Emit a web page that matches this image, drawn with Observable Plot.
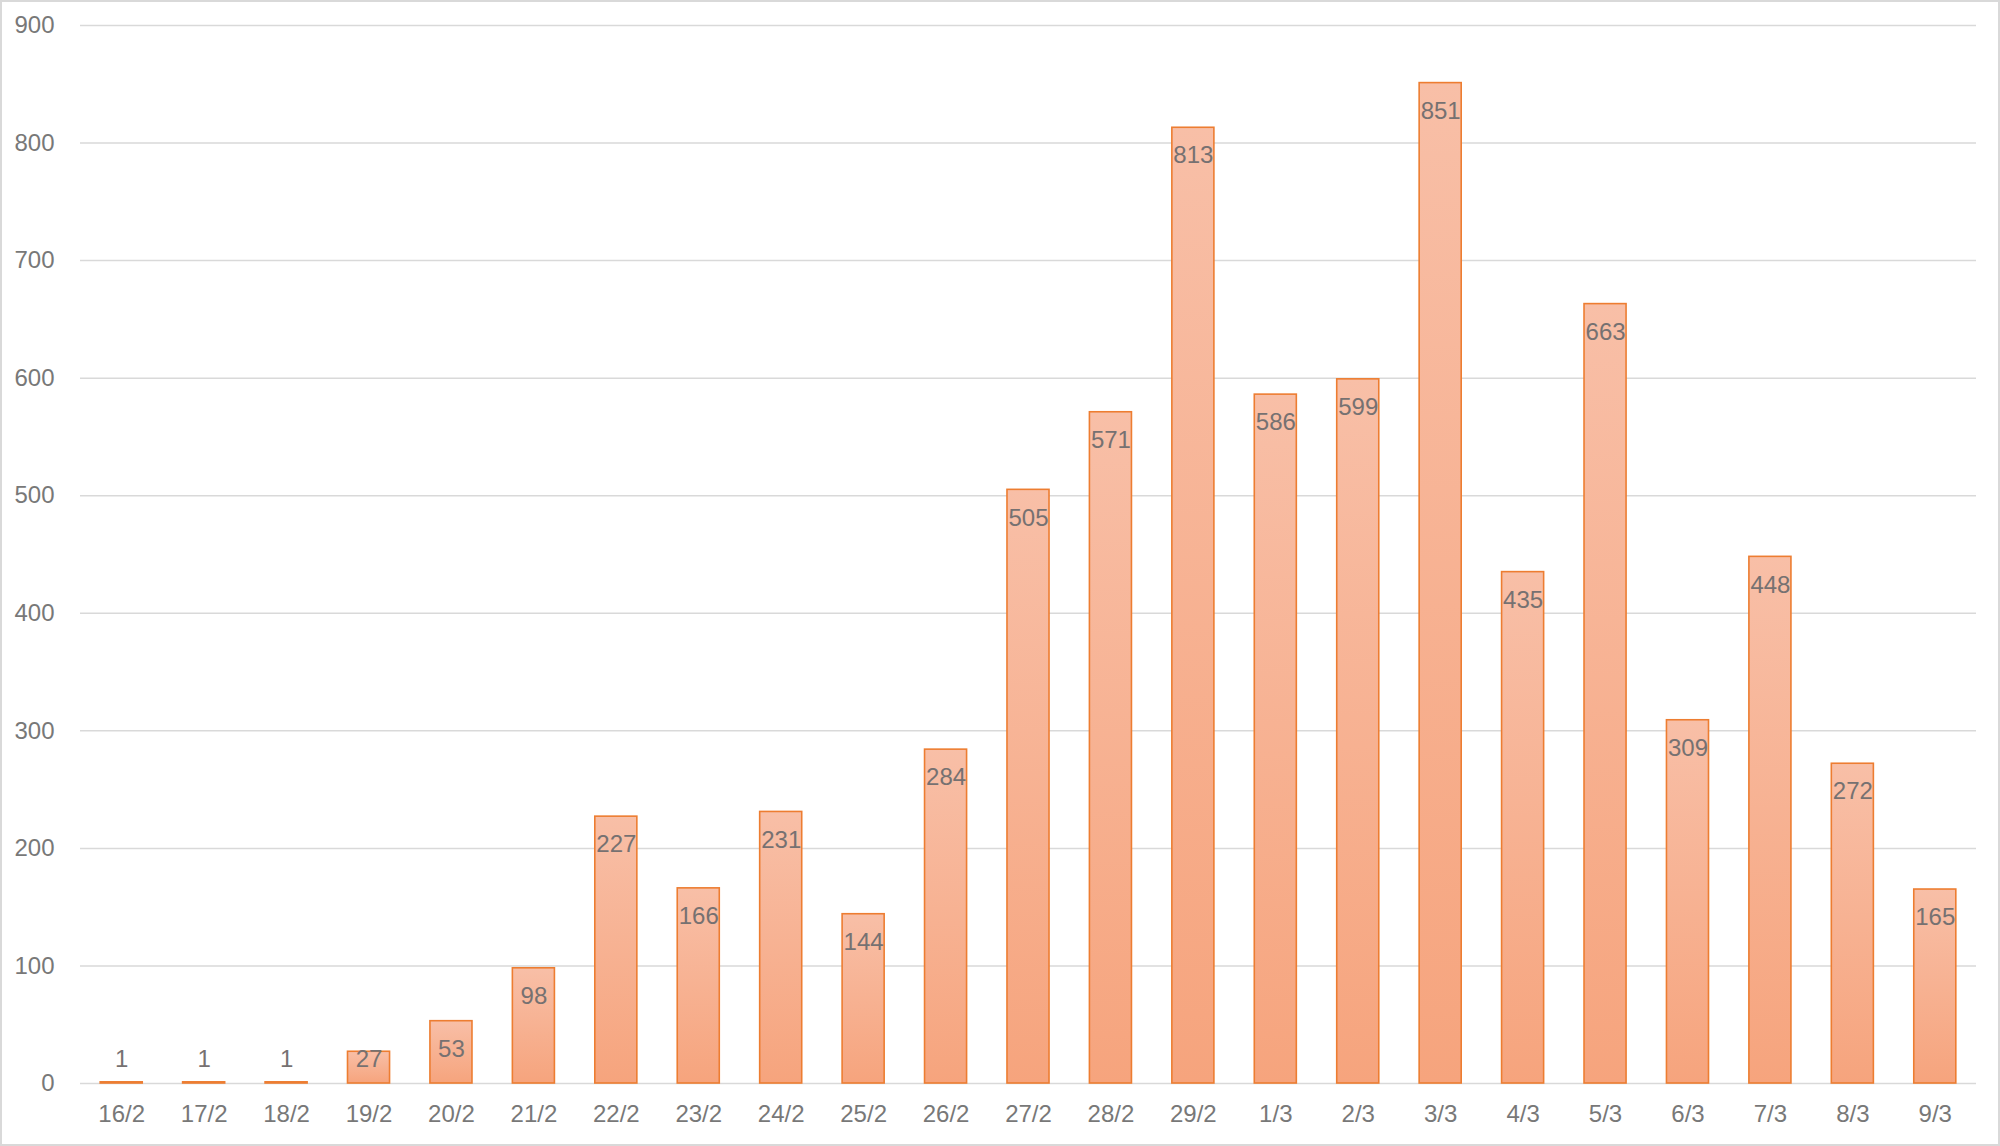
<!DOCTYPE html>
<html>
<head>
<meta charset="utf-8">
<script src="https://cdn.jsdelivr.net/npm/d3@7"></script>
<script src="https://cdn.jsdelivr.net/npm/@observablehq/plot@0.6"></script>
<style>
  html, body { margin: 0; padding: 0; background: #fff; }
  #frame { width: 2000px; height: 1146px; box-sizing: border-box; border: 2px solid #d9d9d9; overflow: hidden; }
  #frame svg { display: block; }
</style>
</head>
<body>
<div id="frame"></div>
<script>
const dates = ["16/2","17/2","18/2","19/2","20/2","21/2","22/2","23/2","24/2","25/2","26/2","27/2","28/2","29/2","1/3","2/3","3/3","4/3","5/3","6/3","7/3","8/3","9/3"];
const cases = [1,1,1,27,53,98,227,166,231,144,284,505,571,813,586,599,851,435,663,309,448,272,165];
const yTicks = [0,100,200,300,400,500,600,700,800,900];

const data = dates.map((d, i) => ({date: d, value: cases[i]}));

const chart = Plot.plot({
  width: 1996,
  height: 1142,
  marginLeft: 78,
  marginRight: 22,
  marginTop: 23,
  marginBottom: 61,
  style: {fontFamily: "Liberation Sans, Arial, sans-serif", fontSize: "24px", color: "#787878", background: "#fff"},
  x: {domain: dates, label: null, paddingInner: 0.49, paddingOuter: 0.245, round: false, tickSize: 0, tickPadding: 21},
  y: {domain: [0, 900], ticks: yTicks, label: null, tickSize: 0, tickPadding: 26},
  marks: [
    Plot.gridY(yTicks, {stroke: "#d9d9d9", strokeOpacity: 1, strokeWidth: 1.5}),
    Plot.barY(data, {x: "date", y: "value", fill: "url(#barGrad)", stroke: "#ed7d31", strokeWidth: 1.6}),
    Plot.text(data, {
      x: "date",
      y: d => Math.max(d.value, 44),
      text: d => String(d.value),
      dy: 28,
      fill: "#767171",
      fontSize: 24
    })
  ]
});

const ns = "http://www.w3.org/2000/svg";
const defs = document.createElementNS(ns, "defs");
const grad = document.createElementNS(ns, "linearGradient");
grad.setAttribute("id", "barGrad");
grad.setAttribute("x1", "0"); grad.setAttribute("y1", "0");
grad.setAttribute("x2", "0"); grad.setAttribute("y2", "1");
[["0%", "#f8bfa7"], ["100%", "#f6a47d"]].forEach(([o, c]) => {
  const s = document.createElementNS(ns, "stop");
  s.setAttribute("offset", o);
  s.setAttribute("stop-color", c);
  grad.appendChild(s);
});
defs.appendChild(grad);
chart.insertBefore(defs, chart.firstChild);

document.getElementById("frame").appendChild(chart);
</script>
</body>
</html>
